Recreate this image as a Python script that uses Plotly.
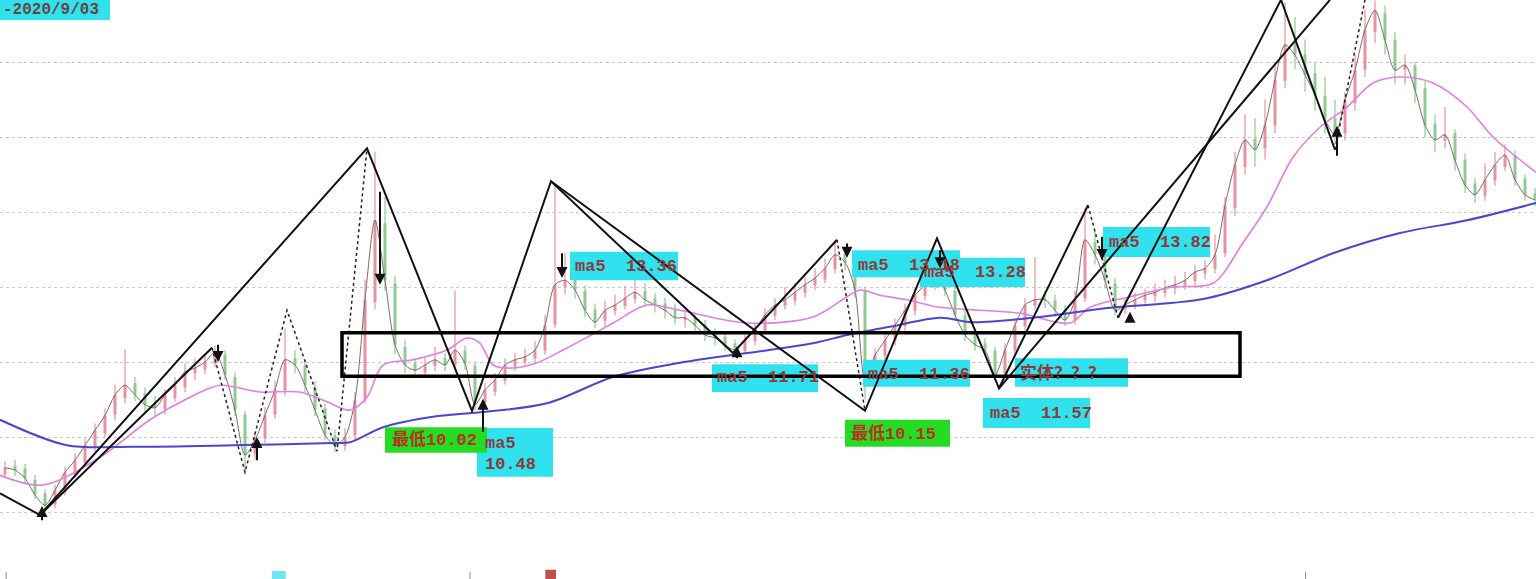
import plotly.graph_objects as go

# ---------------- data (bar index, price) ----------------
bar = list(range(154))
close = [9.59, 9.56, 9.45, 9.23, 9.09, 9.29, 9.53, 9.69, 9.89, 10.09,
         10.29, 10.56, 10.69, 10.56, 10.43, 10.39, 10.56, 10.69, 10.87, 10.92,
         11.00, 11.13, 10.83, 10.36, 9.76, 9.96, 10.29, 10.63, 11.03, 10.96,
         10.69, 10.36, 10.03, 9.89, 10.00, 10.49, 11.83, 12.89, 12.09, 11.23,
         10.96, 10.89, 10.96, 11.03, 10.96, 11.16, 10.98, 10.43, 10.63, 10.76,
         10.96, 11.03, 11.07, 11.16, 11.49, 12.03, 12.09, 11.96, 11.69, 11.53,
         11.69, 11.76, 11.85, 11.93, 11.83, 11.76, 11.69, 11.59, 11.59, 11.49,
         11.36, 11.32, 11.23, 11.16, 11.29, 11.43, 11.63, 11.76, 11.83, 11.93,
         12.03, 12.12, 12.25, 12.43, 12.33, 11.96, 10.76, 11.09, 11.29, 11.49,
         11.69, 11.89, 12.03, 12.23, 11.96, 11.63, 11.36, 11.23, 11.16, 10.83,
         11.16, 11.49, 11.76, 11.83, 11.83, 11.69, 11.56, 11.83, 12.63, 12.43,
         12.09, 11.69, 11.76, 11.83, 11.89, 11.93, 11.99, 12.03, 12.09, 12.20,
         12.25, 12.43, 13.09, 13.63, 13.96, 13.83, 14.16, 14.76, 15.23, 15.09,
         14.83, 14.56, 14.23, 14.03, 14.49, 14.89, 15.43, 15.69, 15.29, 14.89,
         14.96, 14.63, 14.16, 13.96, 14.03, 13.69, 13.36, 13.23, 13.43, 13.63,
         13.76, 13.43, 13.23, 13.16]
open_ = [9.50, 9.62, 9.58, 9.43, 9.25, 9.10, 9.27, 9.50, 9.66, 9.86,
         10.05, 10.30, 10.52, 10.72, 10.58, 10.46, 10.37, 10.52, 10.66, 10.85,
         10.90, 10.98, 11.10, 10.80, 10.30, 9.78, 9.98, 10.30, 10.62, 11.05,
         10.95, 10.66, 10.38, 10.02, 9.88, 10.02, 10.50, 11.80, 12.85, 12.05,
         11.20, 10.98, 10.86, 10.95, 11.05, 10.96, 11.15, 10.95, 10.45, 10.60,
         10.75, 10.94, 11.00, 11.05, 11.15, 11.50, 12.00, 12.10, 11.95, 11.70,
         11.55, 11.68, 11.75, 11.84, 11.95, 11.85, 11.78, 11.70, 11.56, 11.60,
         11.50, 11.38, 11.34, 11.25, 11.15, 11.28, 11.42, 11.62, 11.75, 11.82,
         11.92, 12.02, 12.10, 12.24, 12.45, 12.30, 11.95, 10.80, 11.08, 11.28,
         11.48, 11.68, 11.88, 12.02, 12.22, 11.95, 11.62, 11.38, 11.25, 11.15,
         10.85, 11.15, 11.48, 11.75, 11.85, 11.82, 11.70, 11.55, 11.85, 12.60,
         12.45, 12.05, 11.70, 11.75, 11.82, 11.88, 11.92, 11.98, 12.02, 12.08,
         12.18, 12.24, 12.45, 13.05, 13.60, 13.98, 13.85, 14.15, 14.75, 15.25,
         15.10, 14.85, 14.55, 14.25, 14.05, 14.45, 14.90, 15.40, 15.65, 15.30,
         14.90, 14.95, 14.65, 14.18, 13.95, 14.05, 13.70, 13.38, 13.22, 13.42,
         13.60, 13.75, 13.45, 13.25]
high = [9.68, 9.70, 9.64, 9.50, 9.30, 9.36, 9.60, 9.78, 9.98, 10.18,
        10.38, 10.70, 11.17, 10.80, 10.66, 10.55, 10.64, 10.80, 10.98, 11.05,
        11.10, 11.22, 11.16, 10.86, 10.35, 10.06, 10.40, 10.75, 11.45, 11.16,
        11.02, 10.74, 10.44, 10.10, 10.12, 10.60, 12.10, 13.80, 13.20, 12.15,
        11.30, 11.05, 11.08, 11.20, 11.12, 11.95, 11.22, 11.00, 10.72, 10.85,
        11.05, 11.12, 11.18, 11.28, 11.62, 13.35, 12.45, 12.20, 12.02, 11.78,
        11.82, 11.90, 12.02, 12.15, 12.05, 11.92, 11.86, 11.78, 11.70, 11.66,
        11.56, 11.45, 11.40, 11.30, 11.36, 11.52, 11.72, 11.85, 12.00, 12.05,
        12.15, 12.25, 12.38, 12.60, 12.52, 12.36, 12.00, 11.18, 11.38, 11.58,
        11.78, 11.98, 12.15, 12.40, 12.30, 12.02, 11.70, 11.45, 11.32, 11.20,
        11.25, 11.58, 11.85, 12.40, 11.95, 11.90, 11.76, 11.95, 13.05, 12.75,
        12.50, 12.12, 11.85, 11.92, 11.98, 12.05, 12.10, 12.15, 12.20, 12.30,
        12.36, 12.70, 13.20, 13.80, 14.30, 14.25, 14.50, 15.00, 15.80, 15.60,
        15.30, 15.00, 14.80, 14.50, 14.60, 15.10, 15.70, 15.82, 15.75, 15.40,
        15.10, 15.00, 14.75, 14.30, 14.40, 14.10, 13.78, 13.45, 13.65, 13.80,
        13.90, 13.82, 13.50, 13.32]
low = [9.45, 9.48, 9.38, 9.17, 9.00, 9.05, 9.22, 9.45, 9.60, 9.80,
       9.99, 10.22, 10.45, 10.48, 10.33, 10.28, 10.30, 10.47, 10.60, 10.76,
       10.84, 10.93, 10.76, 10.28, 9.55, 9.70, 9.92, 10.24, 10.55, 10.85,
       10.60, 10.28, 9.95, 9.80, 9.82, 9.96, 10.45, 11.70, 11.95, 11.10,
       10.85, 10.78, 10.80, 10.88, 10.88, 10.90, 10.90, 10.35, 10.38, 10.55,
       10.70, 10.88, 10.95, 11.00, 11.10, 11.45, 11.90, 11.85, 11.60, 11.45,
       11.48, 11.62, 11.70, 11.78, 11.74, 11.66, 11.58, 11.50, 11.46, 11.40,
       11.28, 11.22, 11.15, 11.08, 11.10, 11.22, 11.38, 11.56, 11.70, 11.76,
       11.86, 11.96, 12.05, 12.18, 12.22, 11.85, 10.50, 10.72, 11.02, 11.22,
       11.42, 11.62, 11.82, 11.96, 11.88, 11.55, 11.28, 11.15, 11.08, 10.75,
       10.80, 11.10, 11.42, 11.70, 11.72, 11.60, 11.48, 11.50, 11.80, 12.30,
       11.98, 11.62, 11.64, 11.70, 11.76, 11.80, 11.86, 11.90, 11.96, 12.02,
       12.10, 12.18, 12.40, 12.95, 13.50, 13.60, 13.70, 14.05, 14.65, 14.90,
       14.60, 14.35, 14.05, 13.90, 13.95, 14.35, 14.80, 15.25, 15.10, 14.70,
       14.70, 14.45, 14.00, 13.80, 13.85, 13.55, 13.25, 13.12, 13.15, 13.35,
       13.55, 13.35, 13.15, 13.08]

# moving averages
ma_pink_x = [-0.5, 3.8, 9.5, 14.5, 18.5, 21.5, 25.5, 29.5, 32.2, 34.5, 36.2, 37.8,
             40.8, 44.2, 46.2, 47.5, 48.8, 50.8, 53.2, 55.8, 58.2, 60.8, 64.2, 67.5,
             74.2, 80.8, 84.2, 85.5, 87.5, 90.2, 93.5, 101.5, 106.5, 108.5, 112.5,
             116.8, 120.8, 123.8, 126.2, 128.8, 131.5, 134.2, 136.8, 139.5, 142.8,
             146.2, 148.8, 153.1]
ma_pink_y = [9.49, 9.36, 9.73, 10.23, 10.53, 10.69, 10.60, 10.60, 10.47, 10.36, 10.53,
             10.96, 11.03, 11.16, 11.32, 11.25, 10.96, 10.92, 10.99, 11.16, 11.33, 11.52,
             11.76, 11.69, 11.52, 11.60, 11.87, 11.96, 11.89, 11.83, 11.73, 11.65, 11.52,
             11.73, 11.87, 12.00, 12.05, 12.59, 13.07, 13.73, 14.13, 14.40, 14.72, 14.80,
             14.72, 14.40, 14.00, 13.53]
ma_blue_x = [-0.5, 6.2, 12.8, 22.8, 32.8, 34.5, 37.8, 42.8, 47.5, 54.2, 60.8, 67.5,
             74.2, 80.8, 84.2, 88.5, 93.5, 96.8, 103.5, 110.2, 116.8, 120.2, 126.2,
             132.8, 139.5, 146.2, 153.1]
ma_blue_y = [10.23, 9.89, 9.87, 9.89, 9.92, 9.93, 10.13, 10.27, 10.33, 10.45, 10.80,
             10.99, 11.12, 11.25, 11.36, 11.47, 11.59, 11.53, 11.60, 11.72, 11.79, 11.85,
             12.09, 12.45, 12.72, 12.89, 13.12]

# hand-drawn zigzag lines (bar, price)
solid_x = [[-0.5, 3.5, 36.2, 46.7, 54.6, 72.8, 83.2],
           [3.5, 20.7],
           [54.6, 86.0, 93.2, 99.4, 108.3],
           [99.4, 132.5],
           [111.3, 127.6, 133.0]]
solid_y = [[9.25, 8.96, 13.85, 10.35, 13.41, 11.12, 12.63],
           [8.96, 11.19],
           [13.41, 10.35, 12.65, 10.65, 13.09],
           [10.65, 15.83],
           [11.59, 15.83, 13.83]]
dotted_x = [[20.7, 24.0, 28.2, 33.2, 36.2], [83.2, 86.0], [108.3, 111.3], [133.0, 136.0]]
dotted_y = [[11.19, 9.53, 11.69, 9.81, 13.85], [12.63, 10.35], [13.09, 11.59], [13.83, 15.83]]

# arrows: (bar, tail price, head price)
arrow_x = [37.5, 21.3, 25.2, 3.7, 47.8, 55.7, 73.2, 84.2, 93.5, 109.7, 112.5, 133.2]
arrow_tail = [13.29, 11.25, 9.67, 8.87, 10.05, 12.47, 11.03, 12.60, 12.51, 12.69, 11.53, 13.73]
arrow_head = [12.03, 11.00, 10.00, 9.08, 10.51, 12.12, 11.21, 12.39, 12.25, 12.36, 11.67, 14.15]

# labels: box (x0, x1, y_top, y_bottom), text anchor (x, y), text, kind
label_box = [(-0.5, 10.5, 15.90, 15.56), (47.2, 54.8, 10.12, 9.47), (38.0, 48.2, 10.13, 9.79),
             (56.5, 67.3, 12.47, 12.09), (70.7, 81.3, 10.97, 10.60), (84.0, 94.5, 10.23, 9.87),
             (84.7, 95.5, 12.49, 12.13), (91.5, 102.0, 12.39, 12.00), (85.8, 96.5, 11.03, 10.67),
             (101.0, 112.3, 11.05, 10.67), (97.8, 108.5, 10.52, 10.12), (109.8, 120.5, 12.80, 12.40)]
label_kind = ["cyan", "cyan", "green", "cyan", "cyan", "green", "cyan", "cyan", "cyan",
              "cyan", "cyan", "cyan"]
label_texts = [["-2020/9/03"], ["ma5", "10.48"], ["最低10.02"], ["ma5  13.36"], ["ma5  11.71"],
               ["最低10.15"], ["ma5  13.18"], ["ma5  13.28"], ["ma5  11.36"], ["实体？？？"],
               ["ma5  11.57"], ["ma5  13.82"]]
label_text_x = [-0.4, 47.8, 38.5, 56.8, 71.0, 84.4, 85.1, 91.7, 86.1, 101.3, 98.3, 110.2]
label_text_y = [[15.70], [9.91, 9.63], [9.96], [12.28], [10.79], [10.04], [12.29], [12.20],
                [10.84], [10.85], [10.32], [12.60]]

# box drawn around the consolidation zone
zone_x = [33.7, 123.5]
zone_y = [10.81, 11.39]

# ---------------- figure ----------------
UP = "#e6939f"
DOWN = "#8fca8f"
fig = go.Figure()

def seg(xs, lo, hi):
    X, Y = [], []
    for x, a, b in zip(xs, lo, hi):
        X += [x, x, None]
        Y += [a, b, None]
    return X, Y

up_i = [i for i in bar if close[i] >= open_[i]]
dn_i = [i for i in bar if close[i] < open_[i]]
for idx, col in ((up_i, UP), (dn_i, DOWN)):
    X, Y = seg([bar[i] for i in idx], [low[i] for i in idx], [high[i] for i in idx])
    fig.add_trace(go.Scatter(x=X, y=Y, mode="lines", line=dict(color=col, width=1.2),
                             hoverinfo="skip", showlegend=False))
    X, Y = seg([bar[i] for i in idx], [open_[i] for i in idx], [close[i] for i in idx])
    fig.add_trace(go.Scatter(x=X, y=Y, mode="lines", line=dict(color=col, width=3),
                             hoverinfo="skip", showlegend=False))

fig.add_trace(go.Scatter(x=bar, y=close, mode="lines",
                         line=dict(color="#7d6a70", width=1, shape="spline", smoothing=0.8),
                         showlegend=False, hoverinfo="skip"))
fig.add_trace(go.Scatter(x=ma_pink_x, y=ma_pink_y, mode="lines",
                         line=dict(color="#e47ee0", width=1.6, shape="spline", smoothing=0.9),
                         showlegend=False, hoverinfo="skip"))
fig.add_trace(go.Scatter(x=ma_blue_x, y=ma_blue_y, mode="lines",
                         line=dict(color="#4b46d2", width=2, shape="spline", smoothing=0.9),
                         showlegend=False, hoverinfo="skip"))

shapes = []
BG = {"cyan": "#2fe2ee", "green": "#24dc24"}
for (x0, x1, yt, yb), kind in zip(label_box, label_kind):
    shapes.append(dict(type="rect", xref="x", yref="y", x0=x0, x1=x1, y0=yb, y1=yt,
                       fillcolor=BG[kind], line=dict(width=0), layer="above"))

def path(xs, ys):
    return "M " + " L ".join(f"{x},{y}" for x, y in zip(xs, ys))

for xs, ys in zip(solid_x, solid_y):
    shapes.append(dict(type="path", xref="x", yref="y", path=path(xs, ys),
                       line=dict(color="#111111", width=2), layer="above"))
for xs, ys in zip(dotted_x, dotted_y):
    shapes.append(dict(type="path", xref="x", yref="y", path=path(xs, ys),
                       line=dict(color="#222222", width=1.5, dash="dot"), layer="above"))

shapes.append(dict(type="rect", xref="x", yref="y", x0=zone_x[0], x1=zone_x[1],
                   y0=zone_y[0], y1=zone_y[1], line=dict(color="#000000", width=3.5),
                   fillcolor="rgba(0,0,0,0)", layer="above"))

# small axis tick remnants at the bottom edge
for px in (0.004, 0.306, 0.85):
    shapes.append(dict(type="line", xref="paper", yref="paper", x0=px, x1=px, y0=0, y1=0.012,
                       line=dict(color="#8a8a8a", width=1)))
shapes.append(dict(type="rect", xref="paper", yref="paper", x0=0.177, x1=0.186, y0=0, y1=0.014,
                   fillcolor="#6fe6ef", line=dict(width=0)))
shapes.append(dict(type="rect", xref="paper", yref="paper", x0=0.355, x1=0.362, y0=0, y1=0.016,
                   fillcolor="#c05050", line=dict(width=0)))

annotations = []
for xa, yt, yh in zip(arrow_x, arrow_tail, arrow_head):
    annotations.append(dict(x=xa, y=yh, ax=xa, ay=yt, xref="x", yref="y", axref="x", ayref="y",
                            text="", showarrow=True, arrowhead=2, arrowsize=1.1,
                            arrowwidth=2, arrowcolor="#111111"))

TXT = {"cyan": "#8e3a3a", "green": "#b8321c"}
for texts, tx, tys, kind, i in zip(label_texts, label_text_x, label_text_y, label_kind,
                                   range(len(label_texts))):
    for t, ty in zip(texts, tys):
        annotations.append(dict(x=tx, y=ty, xref="x", yref="y", text=f"<b>{t}</b>",
                                showarrow=False, xanchor="left", yanchor="middle",
                                font=dict(family="Liberation Mono, Noto Sans CJK SC, monospace",
                                          size=16 if i == 0 else 17,
                                          color="#6a4444" if i == 0 else TXT[kind])))

fig.update_layout(
    width=1536, height=579, margin=dict(l=0, r=0, t=0, b=0),
    paper_bgcolor="white", plot_bgcolor="white",
    xaxis=dict(range=[-0.5, 153.1], visible=False, showgrid=False, zeroline=False),
    yaxis=dict(range=[8.107, 15.827], tick0=9, dtick=1, showgrid=True, gridcolor="#c9c9c9",
               griddash="dot", gridwidth=1, showticklabels=False, zeroline=False,
               showline=False, ticks=""),
    shapes=shapes, annotations=annotations, showlegend=False,
)

fig.write_html("out.html")
